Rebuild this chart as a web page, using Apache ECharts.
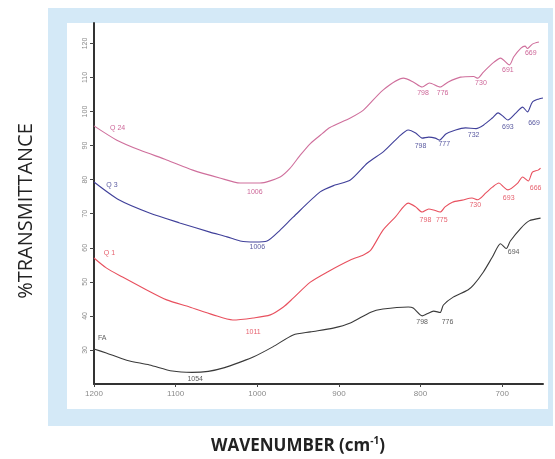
<!DOCTYPE html>
<html><head><meta charset="utf-8">
<script src="https://cdn.jsdelivr.net/npm/echarts@6/dist/echarts.min.js"></script>
<style>html,body{margin:0;padding:0;background:#fff}#c{width:555px;height:459px}</style>
</head><body><div id="c"></div>
<script>
// ---- data (wavenumber cm-1, % transmittance, offset spectra) ----
const xTickLabels = [1200, 1100, 1000, 900, 800, 700];
const yTickLabels = [30, 40, 50, 60, 70, 80, 90, 100, 110, 120];

const faWn = [1200,1185,1160,1132,1104,1080,1060,1040,1020,1005,981,956,935,907,886,861,846,815,809,798,792,784,776,772,760,742,735,723,712,702,695,690,677,667,653];
const faT  = [30.3,29.1,27.0,25.6,23.8,23.4,23.7,24.8,26.5,27.9,30.9,34.4,35.3,36.4,37.9,41.1,42.0,42.6,42.3,40.0,40.6,41.4,41.0,43.2,45.5,47.6,49.1,52.9,57.3,61.2,59.8,62.0,65.8,67.9,68.7];

const q1Wn = [1200,1185,1165,1140,1111,1083,1054,1030,1005,984,968,956,935,914,886,870,861,846,831,815,806,798,790,784,776,770,761,749,737,730,720,712,704,698,693,681,675,668,663,656,653];
const q1T  = [57.0,54.1,51.4,48.2,44.7,42.6,40.3,38.8,39.4,40.3,42.6,45.2,49.9,52.9,56.4,57.9,59.3,65.2,69.0,73.1,72.0,70.5,71.4,71.1,70.5,72.0,73.4,74.0,74.6,74.1,76.1,77.8,79.0,77.8,77.0,79.0,80.8,79.6,82.2,82.8,83.4];

const q3Wn = [1200,1169,1132,1095,1058,1037,1021,1003,988,972,956,923,905,886,865,845,827,815,806,798,790,782,777,769,757,745,732,723,712,705,698,693,683,675,669,663,655,650];
const q3T  = [79.3,74.0,70.2,67.3,64.6,63.2,62.0,61.7,62.0,65.2,69.0,76.4,78.4,79.9,84.9,88.3,92.5,94.6,93.7,92.2,92.5,92.2,91.6,93.4,94.6,95.2,95.0,96.0,98.1,99.6,98.4,97.5,99.6,101.3,99.9,102.8,103.7,104.0];

const q24Wn = [1200,1172,1144,1111,1079,1046,1021,997,972,960,948,935,920,911,886,870,846,821,809,798,789,776,766,751,735,730,723,710,702,691,686,677,672,669,663,655];
const q24T  = [95.8,91.6,88.7,85.8,82.8,80.5,79.0,79.0,80.8,83.3,87.0,90.6,93.6,95.3,98.1,100.4,106.3,109.8,108.7,107.2,108.4,107.2,108.7,110.1,110.3,109.8,111.6,114.5,115.7,113.7,116.0,118.6,119.2,118.5,119.8,120.4];

// peak annotations: [wavenumber, transmittance, text]
const faNotes  = [[1190,33.5,'FA'],[1076,21.5,'1054'],[798,38.2,'798'],[767,38.2,'776'],[686,58.8,'694']];
const q1Notes  = [[1181,58.5,'Q 1'],[1005,35.3,'1011'],[794,68.2,'798'],[774,68.2,'775'],[733,72.6,'730'],[692,74.6,'693'],[659,77.5,'666']];
const q3Notes  = [[1178,78.4,'Q 3'],[1000,60.2,'1006'],[800,89.9,'798'],[771,90.5,'777'],[735,93.1,'732'],[693,95.5,'693'],[661,96.6,'669']];
const q24Notes = [[1171,95.2,'Q 24'],[1003,76.4,'1006'],[797,105.4,'798'],[773,105.4,'776'],[726,108.4,'730'],[693,112.2,'691'],[665,117.2,'669']];

const colFA = '#3a3a3a', colQ1 = '#e8505e', colQ3 = '#40409a', colQ24 = '#cf6f9c';

function pairs(w, t) { return w.map((v, i) => [v, t[i]]); }
function lineSeries(name, w, t, color) {
  return { name, type: 'line', data: pairs(w, t), showSymbol: false, smooth: 0.25,
    lineStyle: { color, width: 1.1 }, itemStyle: { color }, z: 3, animation: false };
}
function noteSeries(notes, color) {
  return { type: 'scatter', data: notes, symbolSize: 0, animation: false, z: 4,
    label: { show: true, position: 'inside', formatter: p => p.value[2], color,
      fontSize: 7, fontFamily: 'Liberation Sans' } };
}

const chart = echarts.init(document.getElementById('c'));
chart.setOption({
  animation: false,
  backgroundColor: '#ffffff',
  grid: { left: 94, right: 12, top: 23, bottom: 75 },
  xAxis: {
    type: 'value', min: 650, max: 1200, inverse: true,
    axisLine: { show: true, onZero: false, lineStyle: { color: '#333', width: 2 } },
    axisTick: { show: true, length: 3, customValues: xTickLabels, lineStyle: { color: '#444' } },
    axisLabel: { customValues: xTickLabels, formatter: v => String(v), color: '#8a8a8a', fontSize: 8, margin: 6, fontFamily: 'Liberation Sans' },
    splitLine: { show: false }
  },
  yAxis: {
    type: 'value', min: 20, max: 126,
    axisLine: { show: true, lineStyle: { color: '#333', width: 2 } },
    axisTick: { show: true, length: 4, customValues: yTickLabels, lineStyle: { color: '#444' } },
    axisLabel: { customValues: yTickLabels, formatter: v => String(v), color: '#8a8a8a', fontSize: 7, rotate: 90, margin: 5, fontFamily: 'Liberation Sans' },
    splitLine: { show: false }
  },
  graphic: [
    { type: 'rect', z: -100, shape: { x: 48, y: 8, width: 505, height: 418 }, style: { fill: '#d4e9f7' } },
    { type: 'rect', z: -99, shape: { x: 67, y: 23, width: 481, height: 386 }, style: { fill: '#ffffff' } },
    { type: 'text', x: 26, y: 211, rotation: Math.PI / 2,
      style: { text: '%TRANSMITTANCE', fill: '#222', font: '20px "Open Sans"', textAlign: 'center', textVerticalAlign: 'middle' } },
    { type: 'text', x: 298, y: 446,
      style: { text: '{a|WAVENUMBER (cm}{s|-1}{a|)}', textAlign: 'center', textVerticalAlign: 'middle',
        rich: { a: { fontSize: 17, fontWeight: 'bold', fill: '#222', fontFamily: 'Open Sans' },
                s: { fontSize: 10, fontWeight: 'bold', fill: '#222', fontFamily: 'Open Sans', verticalAlign: 'top', padding: [0,0,9,0] } } } }
  ],
  series: [
    lineSeries('FA', faWn, faT, colFA),
    lineSeries('Q 1', q1Wn, q1T, colQ1),
    lineSeries('Q 3', q3Wn, q3T, colQ3),
    lineSeries('Q 24', q24Wn, q24T, colQ24),
    noteSeries(faNotes, '#333'),
    noteSeries(q1Notes, '#e03848'),
    noteSeries(q3Notes, '#303088'),
    noteSeries(q24Notes, '#c0407e')
  ]
});
</script></body></html>
